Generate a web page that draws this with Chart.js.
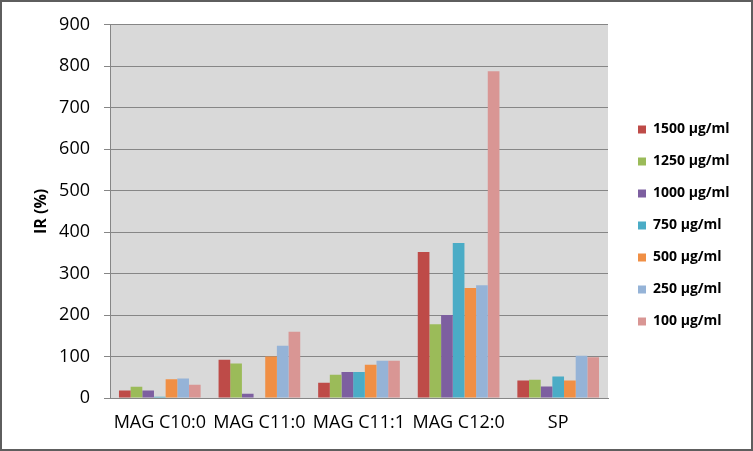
<!DOCTYPE html>
<html>
<head>
<meta charset="utf-8">
<script src="https://cdn.jsdelivr.net/npm/chart.js"></script>
<style>
  body { margin: 0; background: #ffffff; }
  canvas { display: block; }
</style>
</head>
<body>
<canvas id="irChart" width="753" height="451"></canvas>
<script>
    const categories = ['MAG C10:0', 'MAG C11:0', 'MAG C11:1', 'MAG C12:0', 'SP'];
    const seriesNames = ['1500 μg/ml', '1250 μg/ml', '1000 μg/ml', '750 μg/ml', '500 μg/ml', '250 μg/ml', '100 μg/ml'];
    const s1500 = [18, 92, 37, 352, 42];
    const s1250 = [27, 83, 56, 178, 44];
    const s1000 = [18, 10, 63, 200, 28];
    const s750 = [3, 0, 63, 374, 52];
    const s500 = [45, 100, 80, 265, 42];
    const s250 = [47, 126, 90, 272, 102];
    const s100 = [32, 160, 90, 788, 98];
    const colors = ['#BE4B48', '#9BBB59', '#7D5FA0', '#4BACC6', '#F08F45', '#95B3D7', '#D99694'];

    const allSeries = [s1500, s1250, s1000, s750, s500, s250, s100];

    // grey plot area + outer frame, like the excel picture
    const frame = {
        id: 'frame',
        beforeLayout(chart) {
            const lg = chart.legend;
            if (lg && !lg._fixed) {
                const fit = lg.fit;
                lg.fit = function () { fit.call(this); this.width = 133; };
                lg._fixed = true;
            }
        },
        beforeDraw(chart) {
            const { ctx, chartArea: a } = chart;
            ctx.save();
            ctx.fillStyle = '#D9D9D9';
            ctx.fillRect(a.left, a.top, a.right - a.left, a.bottom - a.top);
            ctx.restore();
        },
        afterDraw(chart) {
            const ctx = chart.ctx;
            ctx.save();
            ctx.strokeStyle = '#5e5e5e';
            ctx.lineWidth = 2;
            ctx.strokeRect(1, 1, chart.width - 2, chart.height - 2);
            ctx.restore();
        }
    };

    const ctx = document.getElementById('irChart').getContext('2d');
    new Chart(ctx, {
        type: 'bar',
        data: {
            labels: categories,
            datasets: allSeries.map((vals, i) => ({
                label: seriesNames[i],
                data: vals,
                backgroundColor: colors[i],
                borderWidth: 0,
                categoryPercentage: 0.82,
                barPercentage: 1.0
            }))
        },
        options: {
            responsive: false,
            animation: false,
            layout: { padding: 0 },
            plugins: {
                title: {
                    display: true,
                    text: ' ',
                    font: { size: 10 },
                    padding: { top: 6, bottom: 6 }
                },
                legend: {
                    position: 'right',
                    labels: {
                        boxWidth: 8,
                        boxHeight: 8,
                        padding: 18,
                        color: '#000000',
                        font: { family: 'Open Sans', size: 14, weight: 'bold' }
                    }
                },
                tooltip: { enabled: false }
            },
            scales: {
                x: {
                    grid: { display: false, drawTicks: false },
                    border: { display: true, color: '#868686' },
                    ticks: {
                        color: '#000000',
                        padding: 14,
                        maxRotation: 0,
                        autoSkip: false,
                        font: { family: 'Open Sans', size: 18 }
                    },
                    afterFit(s) { s.height = 53; }
                },
                y: {
                    min: 0,
                    max: 900,
                    ticks: {
                        stepSize: 100,
                        color: '#000000',
                        padding: 14,
                        font: { family: 'Open Sans', size: 18 }
                    },
                    grid: { color: '#868686', tickLength: 6 },
                    border: { display: true, color: '#868686' },
                    title: {
                        display: true,
                        text: 'IR (%)',
                        color: '#000000',
                        padding: { top: 32, bottom: 0 },
                        font: { family: 'Open Sans', size: 16, weight: 'bold' }
                    },
                    afterFit(s) { s.width = 110; }
                },
                y2: {
                    position: 'right',
                    min: 0,
                    max: 900,
                    grid: { display: false },
                    border: { display: false },
                    ticks: { display: false },
                    afterFit(s) { s.width = 12; }
                }
            }
        },
        plugins: [frame]
    });
</script>
</body>
</html>
